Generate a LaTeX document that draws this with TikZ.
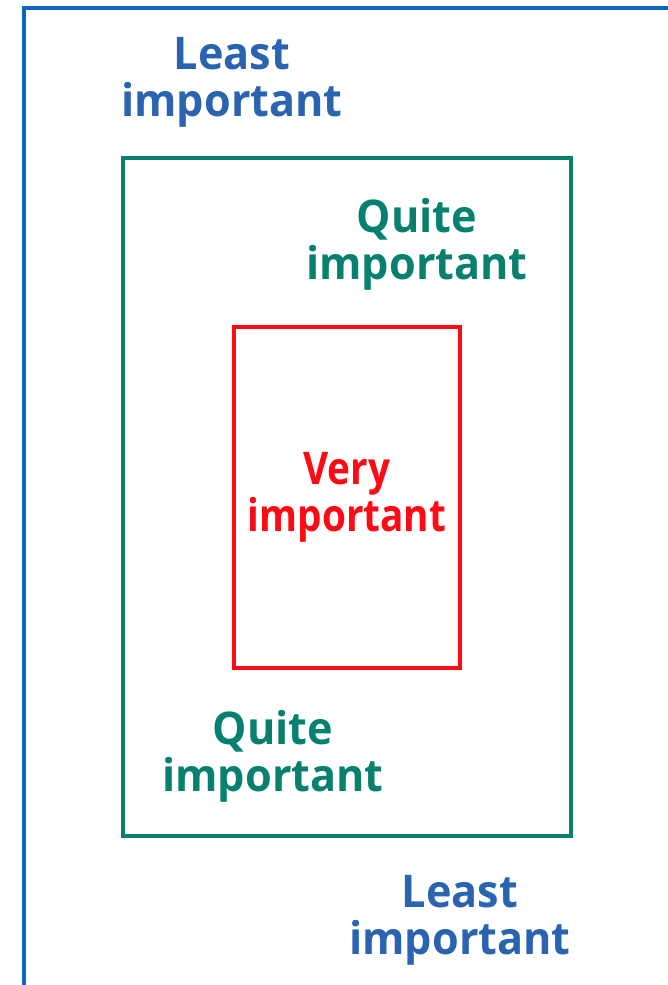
\documentclass[tikz,border=0pt]{standalone}
\usepackage{fontspec}
\setmainfont{Open Sans}
\newfontfamily\lblfont[FakeStretch=0.96]{Open Sans}
\newfontfamily\narrowlblfont[FakeStretch=0.86]{Open Sans}
\definecolor{blueline}{HTML}{0A66C2}
\definecolor{bluetext}{HTML}{2A63B0}
\definecolor{greenc}{HTML}{08806F}
\definecolor{redc}{HTML}{FF0A14}
\begin{document}
\begin{tikzpicture}[x=1pt,y=-1pt,
  lbl/.style={font=\lblfont\fontsize{45}{47}\selectfont\bfseries, align=center, inner sep=0pt, anchor=north},
  narrowlbl/.style={lbl, font=\narrowlblfont\fontsize{45}{47}\selectfont\bfseries},
  frame/.style={line width=4pt}]
\useasboundingbox (0,0) rectangle (668,985);
\clip (0,0) rectangle (668,985);
\draw[frame, blueline] (24,8) rectangle (720,1040);
\draw[frame, greenc] (123,158) rectangle (571,836);
\draw[frame, redc] (234,327) rectangle (460,668);
\node[lbl, bluetext] (least1) at (232,37) {Least\\important};
\node[lbl, greenc] (quite1) at (417,198) {Quite\\important};
\node[narrowlbl, redc] (very) at (347,452) {Very\\important};
\node[lbl, greenc] (quite2) at (273,710) {Quite\\important};
\node[lbl, bluetext] (least2) at (460,875) {Least\\important};
\end{tikzpicture}
\end{document}
